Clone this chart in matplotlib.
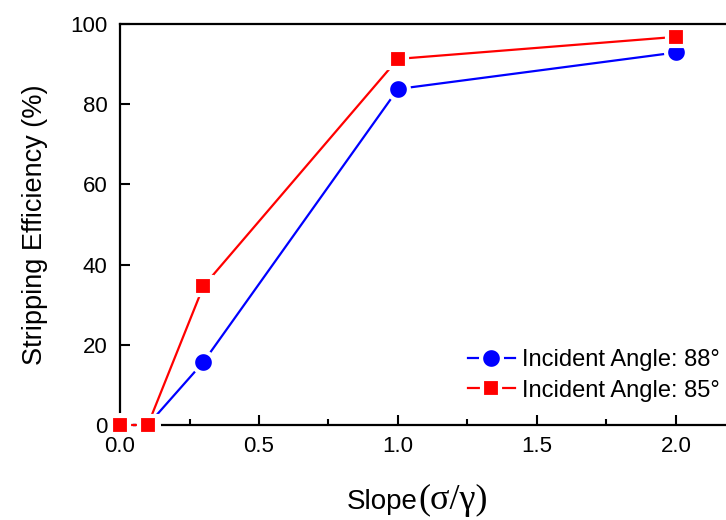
import matplotlib
matplotlib.use("Agg")
import matplotlib.pyplot as plt

plt.rcParams['font.family'] = ['Liberation Sans', 'DejaVu Sans']

slope = [0.0, 0.1, 0.3, 1.0, 2.0]
eff_88 = [0.0, 0.0, 15.7, 83.8, 92.9]
eff_85 = [0.0, 0.0, 34.6, 91.3, 96.8]

fig = plt.figure(figsize=(7.26, 5.2), dpi=100)
ax = fig.add_axes([0.1653, 0.1827, 0.8347, 0.7711])

ax.plot(slope, eff_88, color='blue', lw=1.6, marker='o', ms=15,
        mec='white', mew=3, mfc='blue', label='Incident Angle: 88°',
        clip_on=False, zorder=3)
ax.plot(slope, eff_85, color='red', lw=1.6, marker='s', ms=13.5,
        mec='white', mew=3, mfc='red', label='Incident Angle: 85°',
        clip_on=False, zorder=4)

ax.set_xlim(0, 2.18)
ax.set_ylim(0, 100)
ax.set_xticks([0.0, 0.5, 1.0, 1.5, 2.0])
ax.set_xticks([0.25, 0.75, 1.25, 1.75], minor=True)
ax.set_yticks([0, 20, 40, 60, 80, 100])
ax.tick_params(which='major', direction='in', length=7, width=1.5, labelsize=16)
ax.tick_params(which='minor', direction='in', length=4, width=1.5)
ax.tick_params(axis='x', pad=8)
ax.tick_params(axis='y', pad=9)
for side in ['left', 'bottom', 'top']:
    ax.spines[side].set_linewidth(1.6)
ax.spines['right'].set_visible(False)

ax.set_ylabel('Stripping Efficiency (%)', fontsize=19.5, labelpad=16)

# x label: sans text plus serif greek ratio
fig.text(0.5758, 0.021, 'Slope', fontsize=20, ha='right', va='baseline')
fig.text(0.5758, 0.021, '(σ/γ)', fontsize=26, ha='left', va='baseline',
         family=['Liberation Serif', 'DejaVu Serif'])

ax.legend(loc='lower right', bbox_to_anchor=(1.005, 0.035), frameon=False,
          fontsize=17, handlelength=2.0, handletextpad=0.3, labelspacing=0.37,
          borderaxespad=0)

fig.savefig('out.png', dpi=100)
